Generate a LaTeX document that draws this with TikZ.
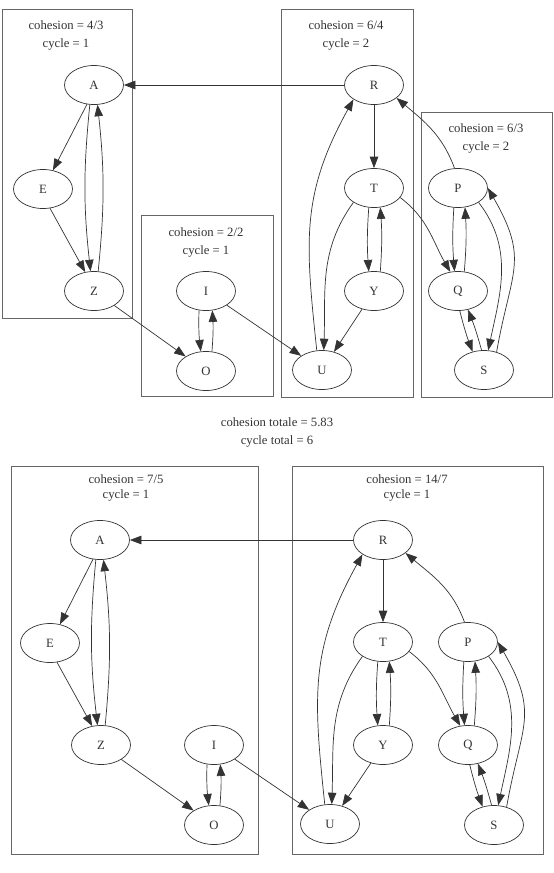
\documentclass[tikz,border=0pt]{standalone}
\usepackage{fontspec}
\setmainfont{Liberation Serif}
\usetikzlibrary{shapes.geometric,arrows.meta}
\definecolor{edgegray}{gray}{0.2}
\definecolor{boxgray}{gray}{0.4}
\newcommand{\gvfont}{\fontsize{12.7}{15}\selectfont}

\begin{document}
\begin{tikzpicture}[
    x=1pt, y=1pt,
    % --- STYLES ---
    vertex/.style={
        ellipse, draw=edgegray, line width=0.7pt,
        minimum width=59pt, minimum height=39pt,
        inner sep=0pt, font=\gvfont, text=edgegray
    },
    cluster/.style={draw=boxgray, line width=0.9pt},
    caption/.style={font=\gvfont, text=edgegray, inner sep=0pt},
    arc/.style={-{Triangle[length=11.5pt, width=8.5pt]}, draw=edgegray, line width=0.7pt}
]

\useasboundingbox (0,0) rectangle (554,-873);

% ===== 1. TOP: CLUSTERS & HEADERS =====
\draw[cluster] (2,-9) rectangle (132,-318);
\draw[cluster] (141,-215) rectangle (273,-396);
\draw[cluster] (281,-9) rectangle (413,-397);
\draw[cluster] (421,-112) rectangle (552,-397);

\node[caption] (coh1) at (66,-25) {cohesion = 4/3};
\node[caption] (cyc1) at (66,-44) {cycle = 1};
\node[caption] (coh2) at (206,-232) {cohesion = 2/2};
\node[caption] (cyc2) at (206,-251) {cycle = 1};
\node[caption] (coh3) at (346,-25) {cohesion = 6/4};
\node[caption] (cyc3) at (346,-44) {cycle = 2};
\node[caption] (coh4) at (486,-128) {cohesion = 6/3};
\node[caption] (cyc4) at (486,-147) {cycle = 2};

% ===== 2. TOP: NODES =====
\node[vertex] (A1) at (94,-85) {A};
\node[vertex] (E1) at (43,-189) {E};
\node[vertex] (Z1) at (94,-291) {Z};
\node[vertex] (I1) at (206,-291) {I};
\node[vertex] (O1) at (206,-371) {O};
\node[vertex] (R1) at (374,-85) {R};
\node[vertex] (T1) at (374,-188) {T};
\node[vertex] (Y1) at (374,-291) {Y};
\node[vertex] (U1) at (322,-370) {U};
\node[vertex] (P1) at (458,-188) {P};
\node[vertex] (Q1) at (458,-291) {Q};
\node[vertex] (S1) at (484,-370) {S};

% ===== 3. TOP: EDGES =====
\draw[arc] (R1) -- (A1);
\draw[arc] (A1.250) -- (E1.62);
\draw[arc] (E1.290) -- (Z1.115);
\draw[arc] (A1.258) to[bend right=6] (Z1.100);
\draw[arc] (Z1.78) to[bend right=6] (A1.280);
\draw[arc] (Z1) -- (O1);
\draw[arc] (I1.250) to[bend right=4] (O1.105);
\draw[arc] (O1.73) to[bend right=4] (I1.288);
\draw[arc] (I1) -- (U1);

\draw[arc] (R1) -- (T1);
\draw[arc] (T1.255) to[bend right=4] (Y1.105);
\draw[arc] (Y1.72) to[bend right=4] (T1.288);
\draw[arc] (Y1) -- (U1);
\draw[arc] (T1.215) to[out=234, in=88] (U1.85);
\draw[arc] (U1.105) to[out=96, in=241, looseness=1.1] (R1.215);

\draw[arc] (T1.340) to[out=-37, in=120] (Q1.112);
\draw[arc] (P1.100) to[out=110, in=-40] (R1.330);
\draw[arc] (P1.258) to[bend right=4] (Q1.100);
\draw[arc] (Q1.72) to[bend right=4] (P1.290);
\draw[arc] (P1.325) to[out=-52, in=78] (S1.78);
\draw[arc] (S1.55) to[out=80, in=-60, looseness=1.3] (P1.0);
\draw[arc] (Q1.275) to[bend right=3] (S1.122);
\draw[arc] (S1.97) to[bend right=3] (Q1.298);

% ===== 4. TOTALS =====
\node[caption] (cohtot) at (277,-422) {cohesion totale = 5.83};
\node[caption] (cyctot) at (277,-441) {cycle total = 6};

% ===== 5. BOTTOM: CLUSTERS & HEADERS =====
\draw[cluster] (11,-466) rectangle (258,-854);
\draw[cluster] (292,-466) rectangle (543,-854);

\node[caption] (coh5) at (126,-479) {cohesion = 7/5};
\node[caption] (cyc5) at (126,-495) {cycle = 1};
\node[caption] (coh6) at (407,-479) {cohesion = 14/7};
\node[caption] (cyc6) at (407,-495) {cycle = 1};

% ===== 6. BOTTOM: NODES =====
\node[vertex] (A2) at (100,-540) {A};
\node[vertex] (E2) at (50,-643) {E};
\node[vertex] (Z2) at (101,-745) {Z};
\node[vertex] (I2) at (214,-745) {I};
\node[vertex] (O2) at (214,-825) {O};
\node[vertex] (R2) at (383,-540) {R};
\node[vertex] (T2) at (383,-642) {T};
\node[vertex] (Y2) at (383,-745) {Y};
\node[vertex] (U2) at (330,-824) {U};
\node[vertex] (P2) at (468,-642) {P};
\node[vertex] (Q2) at (468,-745) {Q};
\node[vertex] (S2) at (494,-825) {S};

% ===== 7. BOTTOM: EDGES =====
\draw[arc] (R2) -- (A2);
\draw[arc] (A2.250) -- (E2.62);
\draw[arc] (E2.290) -- (Z2.115);
\draw[arc] (A2.258) to[bend right=6] (Z2.100);
\draw[arc] (Z2.78) to[bend right=6] (A2.280);
\draw[arc] (Z2) -- (O2);
\draw[arc] (I2.250) to[bend right=4] (O2.105);
\draw[arc] (O2.73) to[bend right=4] (I2.288);
\draw[arc] (I2) -- (U2);

\draw[arc] (R2) -- (T2);
\draw[arc] (T2.255) to[bend right=4] (Y2.105);
\draw[arc] (Y2.72) to[bend right=4] (T2.288);
\draw[arc] (Y2) -- (U2);
\draw[arc] (T2.215) to[out=234, in=88] (U2.85);
\draw[arc] (U2.105) to[out=96, in=241, looseness=1.1] (R2.215);

\draw[arc] (T2.340) to[out=-37, in=120] (Q2.112);
\draw[arc] (P2.100) to[out=110, in=-40] (R2.330);
\draw[arc] (P2.258) to[bend right=4] (Q2.100);
\draw[arc] (Q2.72) to[bend right=4] (P2.290);
\draw[arc] (P2.325) to[out=-52, in=78] (S2.78);
\draw[arc] (S2.55) to[out=80, in=-60, looseness=1.3] (P2.0);
\draw[arc] (Q2.275) to[bend right=3] (S2.122);
\draw[arc] (S2.97) to[bend right=3] (Q2.298);

\end{tikzpicture}
\end{document}
